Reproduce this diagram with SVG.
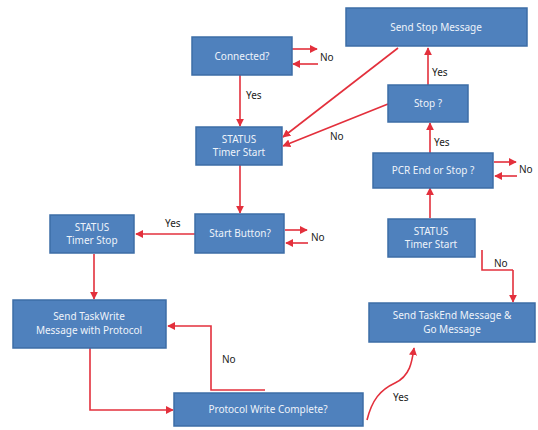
<svg xmlns="http://www.w3.org/2000/svg" width="538" height="430" viewBox="0 0 538 430">
<defs>
<marker id="ah" viewBox="0 0 10 10" refX="9" refY="5" markerWidth="5" markerHeight="5" orient="auto-start-reverse">
<path d="M0,0 L10,5 L0,10 z" fill="#e3303c"/>
</marker>
<style>
.box{fill:#4f81bd;stroke:#3d6da6;stroke-width:1.5}
.bt{fill:#eef3fa;font-family:"Noto Sans","Liberation Sans",sans-serif;font-size:10px;text-anchor:middle}
.lb{fill:#222;font-family:"Noto Sans","Liberation Sans",sans-serif;font-size:10px}
.c{fill:none;stroke:#e3303c;stroke-width:1.6;marker-end:url(#ah)}
.cn{fill:none;stroke:#e3303c;stroke-width:1.6}
</style>
</defs>
<rect width="538" height="430" fill="#ffffff"/>
<g id="connectors">
<path class="c" d="M292,49 H317"/>
<path class="c" d="M318,64 H293"/>
<path class="c" d="M240,75 V126"/>
<path class="c" d="M398,48 L283,137"/>
<path class="c" d="M388,104 L283,146"/>
<path class="c" d="M428,85 V48"/>
<path class="c" d="M430,153 V123"/>
<path class="c" d="M494,162 H516"/>
<path class="c" d="M517,176 H495"/>
<path class="c" d="M430,218 V188"/>
<path class="c" d="M240,165 V213"/>
<path class="c" d="M285,230 H307"/>
<path class="c" d="M308,243 H286"/>
<path class="c" d="M195,234 H136"/>
<path class="c" d="M94,254 V299"/>
<path class="c" d="M90,348 V410 H173"/>
<path class="c" d="M265,390 H211 V326 H168"/>
<path class="cn" d="M482,250 V270 H513"/>
<path class="c" d="M513,270 V302"/>
<path class="c" d="M367,420 C372,400 380,390 395,383 C410,376 412,362 414,348"/>
</g>
<g id="n-sendstop"><rect class="box" x="346" y="8" width="181" height="38"/><text class="bt" x="436" y="31">Send Stop Message</text></g>
<g id="n-connected"><rect class="box" x="192" y="37" width="100" height="38"/><text class="bt" x="242" y="60">Connected?</text></g>
<g id="n-stop"><rect class="box" x="388" y="85" width="80" height="37"/><text class="bt" x="428" y="107">Stop ?</text></g>
<g id="n-statusstart1"><rect class="box" x="196" y="127" width="86" height="38"/><text class="bt" x="239" y="143">STATUS</text><text class="bt" x="239" y="156">Timer Start</text></g>
<g id="n-pcr"><rect class="box" x="373" y="153" width="120" height="35"/><text class="bt" x="433" y="174">PCR End or Stop ?</text></g>
<g id="n-startbtn"><rect class="box" x="195" y="214" width="89" height="39"/><text class="bt" x="240" y="237">Start Button?</text></g>
<g id="n-statusstop"><rect class="box" x="50" y="215" width="84" height="38"/><text class="bt" x="92" y="231">STATUS</text><text class="bt" x="92" y="244">Timer Stop</text></g>
<g id="n-statusstart2"><rect class="box" x="388" y="219" width="87" height="38"/><text class="bt" x="431" y="235">STATUS</text><text class="bt" x="431" y="248">Timer Start</text></g>
<g id="n-taskend"><rect class="box" x="369" y="303" width="166" height="39"/><text class="bt" x="452" y="319">Send TaskEnd Message &amp;</text><text class="bt" x="452" y="333">Go Message</text></g>
<g id="n-taskwrite"><rect class="box" x="13" y="300" width="153" height="48"/><text class="bt" x="89" y="320">Send TaskWrite</text><text class="bt" x="89" y="334">Message with Protocol</text></g>
<g id="n-protocol"><rect class="box" x="174" y="393" width="189" height="33"/><text class="bt" x="268" y="413">Protocol Write Complete?</text></g>
<g id="labels">
<text class="lb" x="320" y="61">No</text>
<text class="lb" x="246" y="99">Yes</text>
<text class="lb" x="330" y="140">No</text>
<text class="lb" x="432" y="76">Yes</text>
<text class="lb" x="434" y="146">Yes</text>
<text class="lb" x="519" y="173">No</text>
<text class="lb" x="311" y="241">No</text>
<text class="lb" x="165" y="227">Yes</text>
<text class="lb" x="494" y="267">No</text>
<text class="lb" x="222" y="363">No</text>
<text class="lb" x="393" y="401">Yes</text>
</g>
</svg>
